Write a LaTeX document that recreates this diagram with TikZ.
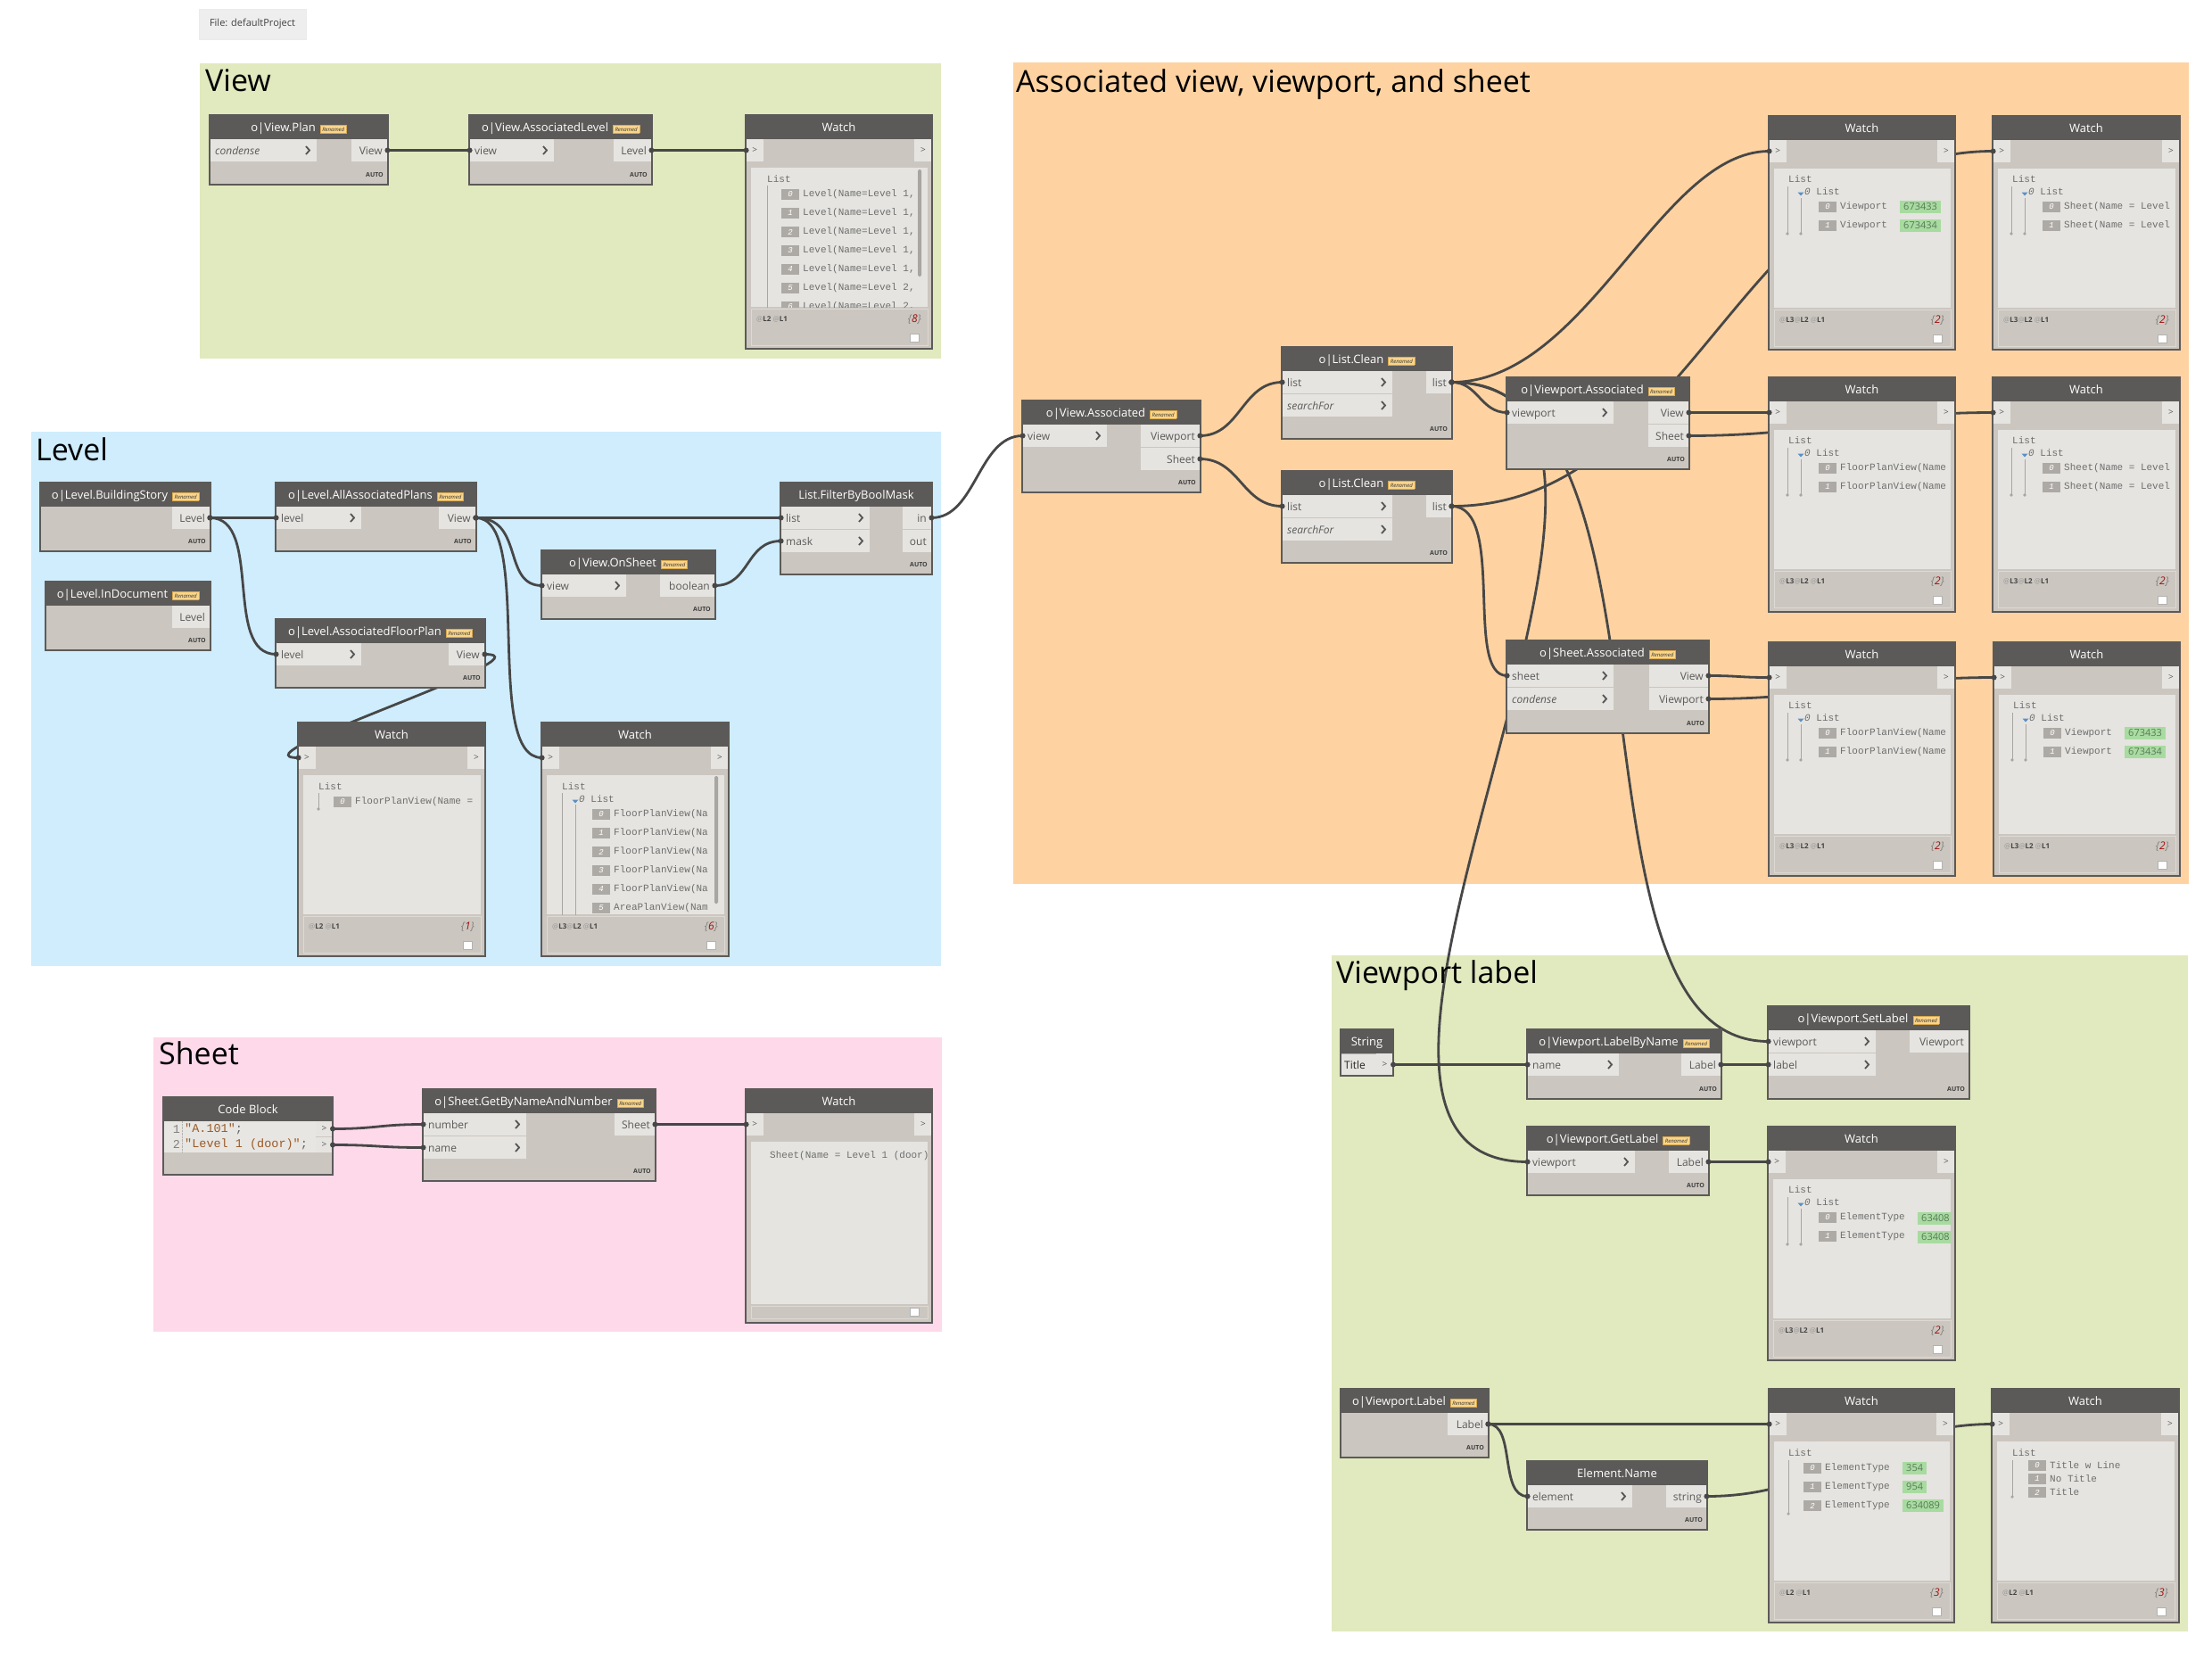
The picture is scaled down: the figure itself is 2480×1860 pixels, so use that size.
\documentclass[tikz,border=0pt]{standalone}
\usepackage{fontspec}
\setmainfont{Open Sans}
\newfontfamily\monof{Liberation Mono}
\pgfdeclarelayer{bgl}
\pgfdeclarelayer{wirel}
\pgfsetlayers{bgl,wirel,main}

\definecolor{grpgreen}{HTML}{E1E9BE}
\definecolor{grpblue}{HTML}{CFEDFD}
\definecolor{grporange}{HTML}{FED3A1}
\definecolor{grppink}{HTML}{FED9EA}
\definecolor{headc}{HTML}{5C5A58}
\definecolor{bodyc}{HTML}{CBC6BF}
\definecolor{portc}{HTML}{E6E4E0}
\definecolor{contc}{HTML}{E5E4E0}
\definecolor{edgec}{HTML}{5C5A58}
\definecolor{wirec}{HTML}{474747}
\definecolor{portt}{HTML}{5A5A5A}
\definecolor{idxc}{HTML}{ADAAA6}
\definecolor{greenb}{HTML}{A8DBA0}
\definecolor{greentc}{HTML}{5A7A5A}
\definecolor{badgef}{HTML}{FAD58A}
\definecolor{badgeb}{HTML}{D9A84E}
\definecolor{cntc}{HTML}{A01010}
\definecolor{codec}{HTML}{9A5A28}
\definecolor{codebg}{HTML}{E8E6E2}
\definecolor{treec}{HTML}{A8A6A2}
\definecolor{triblue}{HTML}{5B8FC4}
\definecolor{filebox}{HTML}{EEEEEE}
\definecolor{autoc}{HTML}{3E3E3E}
\definecolor{wtxtc}{HTML}{6E6E6E}
\definecolor{chevc}{HTML}{555555}
\definecolor{footc}{HTML}{DDD9D3}
\definecolor{lvat}{HTML}{9A9A9A}
\definecolor{lvc}{HTML}{444444}

\tikzset{
 ttl/.style={text=white, font=\fontsize{13}{15}\selectfont, inner sep=0},
 grpt/.style={text=black, font=\fontsize{34}{40}\selectfont, inner sep=0},
 plbl/.style={text=portt, font=\fontsize{12}{14}\selectfont, inner sep=0},
 pbox/.style={fill=portc, inner sep=0, minimum height=25, outer sep=0},
 wport/.style={fill=portc, inner sep=0, minimum width=19, minimum height=25, outer sep=0, text=portt, font=\fontsize{10}{12}\selectfont},
 autot/.style={text=autoc, font=\fontsize{7}{8}\selectfont\bfseries, inner sep=0},
 wtxt/.style={text=wtxtc, font=\monof\fontsize{11}{13}\selectfont, inner sep=0},
 idxt/.style={text=white, font=\monof\itshape\fontsize{9}{10}\selectfont, inner sep=0},
 greent/.style={fill=greenb, text=greentc, font=\fontsize{11}{13}\selectfont, inner xsep=4, inner ysep=1.5, minimum height=14},
 levt/.style={font=\fontsize{8}{9}\selectfont, inner sep=0},
 cntt/.style={text=gray, font=\fontsize{12}{14}\selectfont\itshape, inner sep=0},
 wire/.style={draw=wirec, line width=2.8},
 chev/.style={draw=chevc, line width=1.8},
 codet/.style={font=\monof\fontsize{13.5}{15}\selectfont, inner sep=0, text=black!60},
}

\newcommand{\Badge}{{\setlength{\fboxsep}{2pt}\setlength{\fboxrule}{0.5pt}\fcolorbox{badgeb}{badgef}{\fontsize{6}{6}\selectfont\itshape\color{black!80}Renamed}}}
\newcommand{\DNode}[7]{%
 \fill[bodyc] (#2,#3) rectangle (#4,#5);
 \fill[headc] (#2,#3) rectangle (#4,{#3+27});
 \node[ttl, anchor=base] (#1) at ({(#2+#4)/2},{#3+18.5}) {#6\ifnum#7=1\hspace{5pt}\raisebox{0.5pt}{\Badge}\fi};
 \draw[edgec, line width=1.2] (#2,#3) rectangle (#4,#5);
 \node[autot, anchor=base east] at ({#4-5},{#5-9}) {AUTO};
}
\newcommand{\InPort}[6]{%
 \node[pbox, minimum width={#4-#2}, anchor=north west] (#1) at ({#2+0.6},#3) {};
 \node[plbl, anchor=base west] at ({#2+6},{#3+17}) {\ifnum#6=1\itshape\fi #5};
 \draw[chev] ({#4-11},{#3+8}) -- ({#4-7},{#3+12.5}) -- ({#4-11},{#3+17});
}
\newcommand{\OutPort}[5]{%
 \node[pbox, minimum width={#4-#2}, anchor=north east] (#1) at ({#4-0.6},#3) {};
 \node[plbl, anchor=base east] at ({#4-6},{#3+17}) {#5};
}
\newcommand{\WatchBox}[6]{%
 \fill[bodyc] (#2,#3) rectangle (#4,#5);
 \fill[headc] (#2,#3) rectangle (#4,{#3+27});
 \fill[contc] ({#2+6},{#3+59}) rectangle ({#4-5},{#3+#6});
 \node[ttl, anchor=base] (#1) at ({(#2+#4)/2},{#3+18.5}) {Watch};
 \node[wport, anchor=north west] (#1-in) at ({#2+0.6},{#3+27}) {>};
 \node[wport, anchor=north east] (#1-out) at ({#4-0.6},{#3+27}) {>};
 \draw[edgec, line width=1.2] (#2,#3) rectangle (#4,#5);
}
\newcommand{\Lv}[1]{{\color{lvat}@}{\bfseries\color{lvc}L#1}}
\newcommand{\WFoot}[5]{%
 \draw[footc, line width=1] ({#1+6},{#2+217}) rectangle ({#3-5},{#2+258});
 \node[levt, anchor=west] at ({#1+12},{#2+229}) {#4};
 \node[cntt, anchor=east] at ({#3-12},{#2+229}) {\{\textcolor{cntc}{#5}\}};
 \filldraw[fill=white, draw=gray!60, line width=0.6] ({#3-25},{#2+245}) rectangle ({#3-15},{#2+254});
}
\newcommand{\WItem}[4]{%
 \fill[idxc] (#1,{#2-6}) rectangle ({#1+20},{#2+6});
 \node[idxt] at ({#1+10},#2) {#3};
 \node[wtxt, anchor=west] at ({#1+24},#2) {#4};
}
\newcommand{\WTree}[3]{%
 \draw[treec, line width=0.8] ({#1},{#2}) -- ({#1},{#3});
 \fill[treec] ({#1},{#3}) circle (1.8pt);
}
\newcommand{\WNest}[2]{%
 \fill[triblue] ({#1-3.5},{#2+0.5}) -- ({#1+3.5},{#2+0.5}) -- ({#1},{#2+4.5}) -- cycle;
 \node[wtxt, anchor=west] at ({#1+4},#2) {\itshape 0\upshape{} List};
}
\newcommand{\NWBody}[3]{%
 \node[wtxt, anchor=west] at ({#1+22},{#2+71}) {List};
 \WTree{#1+21}{#2+79}{#2+132}
 \WTree{#1+36}{#2+92}{#2+132}
 \WNest{#1+36}{#2+85}
 \WItem{#1+56}{#2+102}{0}{#3}
 \WItem{#1+56}{#2+123}{1}{#3}
}
\newcommand{\WGreen}[3]{\node[greent, anchor=west] at (#1,#2) {#3};}
\newcommand{\Wire}[4]{%
 \begin{pgfonlayer}{wirel}
 \draw[wire] (#1) .. controls +(#3,0) and +(-#4,0) .. (#2);
 \end{pgfonlayer}
 \fill[wirec] (#1) circle (3pt);
 \fill[wirec] (#2) circle (3pt);
}

\begin{document}
\begin{tikzpicture}[x=1pt,y=-1pt]
\useasboundingbox (0,0) rectangle (2480,1860);

% ---------- groups
\begin{pgfonlayer}{bgl}
\fill[white] (0,0) rectangle (2480,1860);
\fill[grpgreen] (224,71) rectangle (1055,402);
\fill[grpblue] (35,484) rectangle (1055,1083);
\fill[grppink] (172,1163) rectangle (1056,1493);
\fill[grporange] (1136,70) rectangle (2454,991);
\fill[grpgreen] (1493,1071) rectangle (2453,1829);
\end{pgfonlayer}
\node[grpt, anchor=base west] (tview) at (230,102) {View};
\node[grpt, anchor=base west] (tlevel) at (40,516) {Level};
\node[grpt, anchor=base west] (tsheet) at (178,1193) {Sheet};
\node[grpt, anchor=base west] (tassoc) at (1139,103) {Associated view, viewport, and sheet};
\node[grpt, anchor=base west] (tvpl) at (1498,1102) {Viewport label};

\node[fill=filebox, draw=black!8, minimum width=120, minimum height=34, inner sep=0, font=\fontsize{11}{13}\selectfont, text=black!75] (filelbl) at (283,27) {File: defaultProject};

% ---------- View group
\DNode{vplan}{235}{129}{435}{207}{o|View.Plan}{1}
\InPort{vplan-i}{235}{156}{354}{condense}{1}
\OutPort{vplan-o}{395}{156}{435}{View}
\DNode{valev}{526}{129}{731}{207}{o|View.AssociatedLevel}{1}
\InPort{valev-i}{526}{156}{620}{view}{0}
\OutPort{valev-o}{689}{156}{731}{Level}
\WatchBox{w1}{836}{129}{1045}{391}{215}
\begin{scope}
\clip (842,188) rectangle (1040,344);
\node[wtxt, anchor=west] at (860,201) {List};
\draw[treec, line width=0.8] (860,208) -- (860,350);
\WItem{876}{218}{0}{Level(Name=Level 1,}
\WItem{876}{239}{1}{Level(Name=Level 1,}
\WItem{876}{260}{2}{Level(Name=Level 1,}
\WItem{876}{281}{3}{Level(Name=Level 1,}
\WItem{876}{302}{4}{Level(Name=Level 1,}
\WItem{876}{323}{5}{Level(Name=Level 2,}
\WItem{876}{344}{6}{Level(Name=Level 2,}
\end{scope}
\fill[treec, rounded corners=1.5] (1029,190) rectangle (1033,310);
\WFoot{836}{129}{1045}{\Lv{2} \Lv{1}}{8}

% ---------- Level group
\DNode{bstory}{45}{541}{236}{618}{o|Level.BuildingStory}{1}
\OutPort{bstory-o}{194}{568}{236}{Level}
\DNode{indoc}{51}{652}{236}{729}{o|Level.InDocument}{1}
\OutPort{indoc-o}{194}{679}{236}{Level}
\DNode{aaplans}{309}{541}{534}{618}{o|Level.AllAssociatedPlans}{1}
\InPort{aaplans-i}{309}{568}{404}{level}{0}
\OutPort{aaplans-o}{493}{568}{534}{View}
\DNode{onsheet}{607}{617}{802}{694}{o|View.OnSheet}{1}
\InPort{onsheet-i}{607}{644}{701}{view}{0}
\OutPort{onsheet-o}{741}{644}{802}{boolean}
\DNode{fbbm}{875}{541}{1045}{644}{List.FilterByBoolMask}{0}
\InPort{fbbm-l}{875}{568}{974}{list}{0}
\InPort{fbbm-m}{875}{594}{974}{mask}{0}
\OutPort{fbbm-in}{1013}{568}{1045}{in}
\OutPort{fbbm-out}{1013}{594}{1045}{out}
\DNode{afplan}{309}{694}{544}{771}{o|Level.AssociatedFloorPlan}{1}
\InPort{afplan-i}{309}{721}{404}{level}{0}
\OutPort{afplan-o}{504}{721}{544}{View}

\WatchBox{w2}{334}{810}{544}{1072}{215}
\node[wtxt, anchor=west] at (357,882) {List};
\WTree{357}{889}{907}
\WItem{374}{899}{0}{FloorPlanView(Name =}
\WFoot{334}{810}{544}{\Lv{2} \Lv{1}}{1}

\WatchBox{w3}{607}{810}{817}{1072}{215}
\begin{scope}
\clip (613,869) rectangle (812,1025);
\node[wtxt, anchor=west] at (630,882) {List};
\draw[treec, line width=0.8] (630,889) -- (630,1030);
\draw[treec, line width=0.8] (645,902) -- (645,1030);
\WNest{645}{896}
\WItem{664}{913}{0}{FloorPlanView(Na}
\WItem{664}{934}{1}{FloorPlanView(Na}
\WItem{664}{955}{2}{FloorPlanView(Na}
\WItem{664}{976}{3}{FloorPlanView(Na}
\WItem{664}{997}{4}{FloorPlanView(Na}
\WItem{664}{1018}{5}{AreaPlanView(Nam}
\end{scope}
\fill[treec, rounded corners=1.5] (801,870) rectangle (805,1013);
\WFoot{607}{810}{817}{\Lv{3}\Lv{2} \Lv{1}}{6}

% ---------- Sheet group
\fill[bodyc] (183,1230) rectangle (373,1317);
\fill[headc] (183,1230) rectangle (373,1257);
\node[ttl, anchor=base] (cblock) at (278,1248.5) {Code Block};
\fill[codebg] (184,1257) rectangle (354,1292);
\draw[gray!60, densely dotted] (204,1257) -- (204,1292);
\node[codet, text=gray] at (198,1266) {1};
\node[codet, text=gray] at (198,1283) {2};
\node[codet, anchor=west] at (207,1266) {\textcolor{codec}{"A.101"};};
\node[codet, anchor=west] at (207,1283) {\textcolor{codec}{"Level 1 (door)"};};
\node[wport, minimum height=17, anchor=north west] (cb-o1) at (354,1257) {>};
\node[wport, minimum height=17, anchor=north west] (cb-o2) at (354,1275) {>};
\draw[edgec, line width=1.2] (183,1230) rectangle (373,1317);

\DNode{gbnn}{474}{1221}{735}{1324}{o|Sheet.GetByNameAndNumber}{1}
\InPort{gbnn-num}{474}{1248}{589}{number}{0}
\InPort{gbnn-name}{474}{1274}{589}{name}{0}
\OutPort{gbnn-o}{690}{1248}{735}{Sheet}
\WatchBox{w4}{836}{1221}{1045}{1483}{241}
\begin{scope}
\clip (842,1280) rectangle (1040,1462);
\node[wtxt, anchor=west] at (863,1296) {Sheet(Name = Level 1 (door)};
\end{scope}
\draw[footc, line width=1] (842,1464) rectangle (1040,1478);
\filldraw[fill=white, draw=gray!60, line width=0.6] (1020,1466) rectangle (1030,1475);

% ---------- Associated group
\DNode{vassoc}{1146}{449}{1346}{552}{o|View.Associated}{1}
\InPort{vassoc-i}{1146}{476}{1240}{view}{0}
\OutPort{vassoc-vp}{1280}{476}{1346}{Viewport}
\OutPort{vassoc-sh}{1280}{502}{1346}{Sheet}
\DNode{lc1}{1437}{389}{1628}{492}{o|List.Clean}{1}
\InPort{lc1-l}{1437}{416}{1560}{list}{0}
\InPort{lc1-s}{1437}{442}{1560}{searchFor}{1}
\OutPort{lc1-o}{1600}{416}{1628}{list}
\DNode{lc2}{1437}{528}{1628}{631}{o|List.Clean}{1}
\InPort{lc2-l}{1437}{555}{1560}{list}{0}
\InPort{lc2-s}{1437}{581}{1560}{searchFor}{1}
\OutPort{lc2-o}{1600}{555}{1628}{list}
\DNode{vpassoc}{1689}{423}{1894}{526}{o|Viewport.Associated}{1}
\InPort{vpassoc-i}{1689}{450}{1808}{viewport}{0}
\OutPort{vpassoc-v}{1849}{450}{1894}{View}
\OutPort{vpassoc-s}{1849}{476}{1894}{Sheet}
\DNode{shassoc}{1689}{718}{1916}{822}{o|Sheet.Associated}{1}
\InPort{shassoc-s}{1689}{745}{1808}{sheet}{0}
\InPort{shassoc-c}{1689}{771}{1808}{condense}{1}
\OutPort{shassoc-v}{1850}{745}{1916}{View}
\OutPort{shassoc-vp}{1850}{771}{1916}{Viewport}

\WatchBox{wa}{1983}{130}{2192}{392}{215}
\NWBody{1983}{130}{Viewport}
\WGreen{2130}{232}{673433}
\WGreen{2130}{253}{673434}
\WFoot{1983}{130}{2192}{\Lv{3}\Lv{2} \Lv{1}}{2}

\WatchBox{wb}{2234}{130}{2444}{392}{215}
\begin{scope}
\clip (2240,189) rectangle (2439,345);
\NWBody{2234}{130}{Sheet(Name = Level}
\end{scope}
\WFoot{2234}{130}{2444}{\Lv{3}\Lv{2} \Lv{1}}{2}

\WatchBox{wc}{1983}{423}{2192}{686}{215}
\begin{scope}
\clip (1989,482) rectangle (2187,638);
\NWBody{1983}{423}{FloorPlanView(Name}
\end{scope}
\WFoot{1983}{423}{2192}{\Lv{3}\Lv{2} \Lv{1}}{2}

\WatchBox{wd}{2234}{423}{2444}{686}{215}
\begin{scope}
\clip (2240,482) rectangle (2439,638);
\NWBody{2234}{423}{Sheet(Name = Level}
\end{scope}
\WFoot{2234}{423}{2444}{\Lv{3}\Lv{2} \Lv{1}}{2}

\WatchBox{we}{1983}{720}{2192}{982}{215}
\begin{scope}
\clip (1989,779) rectangle (2187,935);
\NWBody{1983}{720}{FloorPlanView(Name}
\end{scope}
\WFoot{1983}{720}{2192}{\Lv{3}\Lv{2} \Lv{1}}{2}

\WatchBox{wf}{2235}{720}{2444}{982}{215}
\NWBody{2235}{720}{Viewport}
\WGreen{2382}{822}{673433}
\WGreen{2382}{843}{673434}
\WFoot{2235}{720}{2444}{\Lv{3}\Lv{2} \Lv{1}}{2}

% ---------- Viewport label group
\fill[bodyc] (1503,1154) rectangle (1562,1206);
\fill[headc] (1503,1154) rectangle (1562,1181);
\node[ttl, anchor=base] (strnode) at (1532.5,1172.5) {String};
\node[pbox, minimum width=40, anchor=north west, draw=gray!60] (str-val) at (1503,1181) {};
\node[plbl, text=black!85, anchor=base west] at (1507,1198) {Title};
\node[wport, anchor=north west] (str-o) at (1543,1181) {>};
\draw[edgec, line width=1.2] (1503,1154) rectangle (1562,1206);

\DNode{lbn}{1712}{1154}{1930}{1232}{o|Viewport.LabelByName}{1}
\InPort{lbn-i}{1712}{1181}{1814}{name}{0}
\OutPort{lbn-o}{1886}{1181}{1930}{Label}
\DNode{setl}{1982}{1128}{2208}{1232}{o|Viewport.SetLabel}{1}
\InPort{setl-vp}{1982}{1155}{2102}{viewport}{0}
\InPort{setl-l}{1982}{1181}{2102}{label}{0}
\OutPort{setl-o}{2142}{1155}{2208}{Viewport}
\DNode{getl}{1712}{1263}{1916}{1340}{o|Viewport.GetLabel}{1}
\InPort{getl-i}{1712}{1290}{1832}{viewport}{0}
\OutPort{getl-o}{1872}{1290}{1916}{Label}

\WatchBox{wg}{1982}{1263}{2192}{1525}{215}
\begin{scope}
\clip (1988,1322) rectangle (2187,1478);
\NWBody{1983}{1263}{ElementType}
\WGreen{2150}{1366}{63408}
\WGreen{2150}{1387}{63408}
\end{scope}
\WFoot{1982}{1263}{2192}{\Lv{3}\Lv{2} \Lv{1}}{2}

\DNode{vplab}{1503}{1557}{1669}{1634}{o|Viewport.Label}{1}
\OutPort{vplab-o}{1624}{1584}{1669}{Label}
\DNode{ename}{1712}{1638}{1914}{1715}{Element.Name}{0}
\InPort{ename-i}{1712}{1665}{1829}{element}{0}
\OutPort{ename-o}{1869}{1665}{1914}{string}

\WatchBox{wh}{1983}{1557}{2191}{1819}{215}
\node[wtxt, anchor=west] at (2005,1629) {List};
\WTree{2005}{1637}{1697}
\WItem{2022}{1646}{0}{ElementType}
\WItem{2022}{1667}{1}{ElementType}
\WItem{2022}{1688}{2}{ElementType}
\WGreen{2133}{1646}{354}
\WGreen{2133}{1667}{954}
\WGreen{2133}{1688}{634089}
\WFoot{1983}{1557}{2191}{\Lv{2} \Lv{1}}{3}

\WatchBox{wi}{2233}{1557}{2443}{1819}{215}
\node[wtxt, anchor=west] at (2256,1629) {List};
\WTree{2256}{1637}{1678}
\WItem{2274}{1643}{0}{Title w Line}
\WItem{2274}{1658}{1}{No Title}
\WItem{2274}{1673}{2}{Title}
\WFoot{2233}{1557}{2443}{\Lv{2} \Lv{1}}{3}

% ---------- wires
\Wire{vplan-o.east}{valev-i.west}{45}{45}
\Wire{valev-o.east}{w1-in.west}{50}{50}
\Wire{bstory-o.east}{aaplans-i.west}{36}{36}
\Wire{bstory-o.east}{afplan-i.west}{60}{60}
\Wire{aaplans-o.east}{fbbm-l.west}{170}{170}
\Wire{aaplans-o.east}{onsheet-i.west}{55}{45}
\Wire{aaplans-o.east}{w3-in.west}{66}{67}
\Wire{onsheet-o.east}{fbbm-m.west}{40}{40}
\Wire{afplan-o.east}{w2-in.west}{80}{80}
\Wire{fbbm-in.east}{vassoc-i.west}{50}{50}
\Wire{cb-o1.east}{gbnn-num.west}{50}{50}
\Wire{cb-o2.east}{gbnn-name.west}{50}{50}
\Wire{gbnn-o.east}{w4-in.west}{50}{50}
\Wire{vassoc-vp.east}{lc1-l.west}{45}{45}
\Wire{vassoc-sh.east}{lc2-l.west}{45}{45}
\Wire{lc1-o.east}{wa-in.west}{152}{123}
\Wire{lc1-o.east}{vpassoc-i.west}{30}{30}
\Wire{lc1-o.east}{getl-i.west}{322}{312}
\Wire{lc1-o.east}{setl-vp.west}{272}{242}
\Wire{lc2-o.east}{shassoc-s.west}{62}{49}
\Wire{lc2-o.east}{wb-in.west}{272}{284}
\Wire{vpassoc-v.east}{wc-in.west}{45}{45}
\Wire{vpassoc-s.east}{wd-in.west}{146}{144}
\Wire{shassoc-v.east}{we-in.west}{35}{35}
\Wire{shassoc-vp.east}{wf-in.west}{134}{135}
\Wire{str-o.east}{lbn-i.west}{75}{75}
\Wire{lbn-o.east}{setl-l.west}{26}{26}
\Wire{getl-o.east}{wg-in.west}{33}{33}
\Wire{vplab-o.east}{wh-in.west}{150}{150}
\Wire{vplab-o.east}{ename-i.west}{31}{32}
\Wire{ename-o.east}{wi-in.west}{136}{133}
\end{tikzpicture}
\end{document}
